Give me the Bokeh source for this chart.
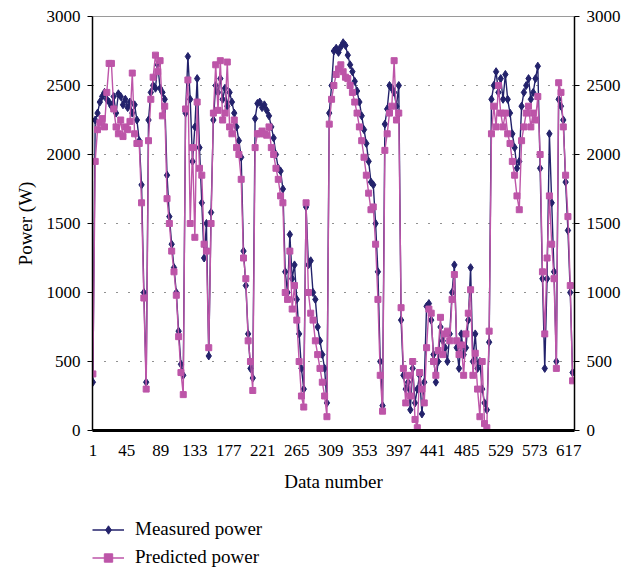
from bokeh.plotting import figure
from bokeh.models import LinearAxis, FixedTicker, Legend, LegendItem, Range1d
from bokeh.layouts import column
from bokeh.embed import file_html
from bokeh.resources import INLINE

# Data number (every third sample)
data_number = list(range(1, 625, 3))

measured = [
    350, 2250, 2300, 2380, 2420, 2450, 2400, 2380, 2350, 2420,
    2300, 2440, 2420, 2360, 2400, 2340, 2380, 2300, 2360, 2250,
    2100, 1780, 1000, 350, 2250, 2450, 2500, 2480, 2650, 2480,
    2450, 2400, 1850, 1550, 1350, 1180, 1000, 720, 480, 400,
    2300, 2710, 2400, 1950, 2200, 2550, 2050, 1650, 1250, 1500,
    540, 1580, 2250, 2500, 2450, 2550, 2400, 2480, 2350, 2450,
    2380, 2300, 2200, 2100, 1980, 1300, 1050, 700, 450, 380,
    2260, 2370, 2380, 2340, 2360, 2320, 2280, 2200, 2120, 2000,
    1900, 1880, 1750, 1150, 1000, 1420, 1100, 1200, 950, 700,
    450, 300, 1620, 1200, 1230, 1000, 950, 750, 650, 550,
    450, 200, 2300, 2500, 2750, 2770, 2740, 2780, 2810, 2790,
    2720, 2650, 2600, 2530, 2460, 2380, 2280, 2180, 2080, 1950,
    1800, 1780, 1500, 1150, 500, 180, 2220, 2330, 2500, 2480,
    2450, 2350, 2500, 800, 400, 300, 350, 150, 450, 200,
    300, 400, 120, 350, 900, 920, 800, 550, 350, 500,
    750, 650, 600, 500, 700, 1000, 1200, 600, 450, 700,
    550, 600, 800, 1180, 500, 700, 450, 500, 300, 200,
    150, 640, 2400, 2500, 2600, 2450, 2550, 2400, 2580, 2400,
    2300, 2150, 2050, 1900, 1950, 2350, 2450, 2500, 2550, 2400,
    2450, 2550, 2640, 1900, 1100, 450, 1100, 2150, 1650, 1150,
    500, 2400, 2350, 2250, 1800, 1450, 1000, 420,
]

predicted = [
    410, 1950, 2180, 2230, 2260, 2200, 2450, 2660, 2660, 2330,
    2200, 2150, 2250, 2130, 2200, 2180, 2240, 2590, 2150, 2080,
    2080, 1650, 960, 300, 2100, 2400, 2560, 2720, 2600, 2680,
    2280, 2350, 1680, 1500, 1300, 1150, 980, 680, 420, 260,
    2330, 2540, 1500, 2050, 1400, 2380, 1900, 1850, 1350, 1300,
    600, 1500, 2300, 2650, 2320, 2680, 2250, 2300, 2670, 2200,
    2150, 2250, 2050, 2000, 1820, 1250, 1100, 650, 500, 290,
    2050, 2150, 2150, 2170, 2150, 2140, 2200, 2050, 2000, 1900,
    1820, 1700, 1650, 1000, 950, 1300, 880, 1050, 800, 500,
    250, 170, 1650, 1000, 850, 800, 650, 550, 450, 350,
    250, 100, 2220, 2400, 2500, 2580, 2620, 2650, 2600, 2560,
    2550, 2500, 2450, 2380, 2300, 2200, 2100, 1980, 1850, 1720,
    1600, 1620, 1350, 950, 400, 140, 2030, 2150, 2300, 2350,
    2680, 2250, 2300, 890, 450, 200, 400, 250, 500, 80,
    20, 420, 300, 200, 600, 880, 850, 500, 400, 580,
    820, 550, 700, 720, 650, 950, 1130, 650, 550, 620,
    400, 700, 850, 1020, 400, 560, 300, 100, 500, 50,
    20, 720, 2150, 2350, 2200, 2500, 2300, 2200, 2300, 2150,
    2080, 1950, 1850, 1700, 1600, 2100, 2200, 2300, 2350, 2200,
    2300, 2250, 2420, 2000, 1150, 700, 1250, 1700, 1350, 1100,
    450, 2520, 2450, 2200, 1850, 1550, 1050, 360,
]

x_ticks = [1, 45, 89, 133, 177, 221, 265, 309, 353, 397, 441, 485, 529, 573, 617]
y_ticks = [0, 500, 1000, 1500, 2000, 2500, 3000]
series_names = ["Measured power", "Predicted power"]

NAVY = "#23226b"
MAGENTA = "#bd55a8"
FONT = "Liberation Serif"

p = figure(
    frame_width=482, frame_height=414,
    x_range=Range1d(0.5, 624.5), y_range=Range1d(0, 3000),
    output_backend="svg", toolbar_location=None,
    min_border_left=92, min_border_right=62, min_border_top=16, min_border_bottom=75,
)
p.background_fill_color = "white"
p.border_fill_color = "white"
p.outline_line_color = "#9a9a9a"
p.outline_line_width = 1

# grid
p.xgrid.visible = False
p.ygrid.ticker = FixedTicker(ticks=y_ticks)
p.ygrid.grid_line_color = "#222222"
p.ygrid.grid_line_dash = "1 11"
p.ygrid.grid_line_width = 1.2

# axes
p.xaxis.ticker = FixedTicker(ticks=x_ticks)
p.xaxis.axis_line_width = 3
p.xaxis.axis_line_color = "black"
p.xaxis.major_tick_line_color = None
p.xaxis.minor_tick_line_color = None
p.xaxis.major_label_standoff = 8
p.xaxis.axis_label = "Data number"
p.xaxis.axis_label_standoff = 12

p.yaxis.ticker = FixedTicker(ticks=y_ticks)
p.yaxis.axis_label = "Power (W)"
p.yaxis.minor_tick_line_color = None
p.yaxis.major_tick_out = 5
p.yaxis.major_tick_in = 0
p.yaxis.major_label_standoff = 7
p.yaxis.axis_label_standoff = 8
p.yaxis.axis_line_width = 1.5

right = LinearAxis(ticker=FixedTicker(ticks=y_ticks))
right.minor_tick_line_color = None
right.major_tick_out = 5
right.major_tick_in = 0
right.major_label_standoff = 7
right.axis_line_width = 1.5
p.add_layout(right, "right")

for ax in [p.xaxis[0], p.yaxis[0], right]:
    ax.major_label_text_font = FONT
    ax.major_label_text_font_size = "17px"
    ax.major_label_text_color = "black"
    ax.axis_label_text_font = FONT
    ax.axis_label_text_font_size = "19px"
    ax.axis_label_text_font_style = "normal"
    ax.axis_label_text_color = "black"

# series
p.line(data_number, measured, line_color=NAVY, line_width=1.4)
p.scatter(data_number, measured, marker="diamond", size=8, fill_color=NAVY, line_color=NAVY)
p.line(data_number, predicted, line_color=MAGENTA, line_width=1.4)
p.scatter(data_number, predicted, marker="square", size=6, fill_color=MAGENTA, line_color=MAGENTA)

# legend strip below the chart (proxy glyphs lie outside its visible range)
q = figure(
    width=636, height=64, x_range=Range1d(0, 1), y_range=Range1d(0, 1),
    output_backend="svg", toolbar_location=None,
    min_border_left=90, min_border_right=0, min_border_top=0, min_border_bottom=0,
)
q.axis.visible = False
q.grid.visible = False
q.outline_line_color = None
q.background_fill_color = "white"
q.border_fill_color = "white"
off = [5, 6]
lm = q.line(off, off, line_color=NAVY, line_width=1.4)
sm = q.scatter(off, off, marker="diamond", size=8, fill_color=NAVY, line_color=NAVY)
lp = q.line(off, off, line_color=MAGENTA, line_width=1.4)
sp = q.scatter(off, off, marker="square", size=6, fill_color=MAGENTA, line_color=MAGENTA)

legend = Legend(
    items=[
        LegendItem(label=series_names[0], renderers=[lm, sm]),
        LegendItem(label=series_names[1], renderers=[lp, sp]),
    ],
    location=(0, 1), orientation="vertical",
)
legend.label_text_font = FONT
legend.label_text_font_size = "19px"
legend.label_text_color = "black"
legend.border_line_color = None
legend.background_fill_alpha = 0
legend.glyph_width = 32
legend.glyph_height = 21
legend.label_standoff = 11
legend.spacing = 6
legend.padding = 0
legend.margin = 0
q.add_layout(legend, "center")

layout = column(p, q, spacing=0)
open("out.html", "w").write(file_html(layout, INLINE))
